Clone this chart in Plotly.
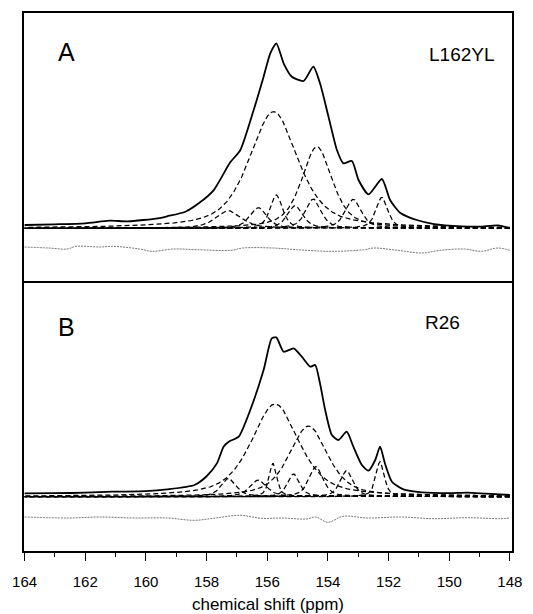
import numpy as np
import plotly.graph_objects as go
from plotly.subplots import make_subplots

# ---------------- data ----------------
# Panel A (L162YL): experimental spectrum, ppm / intensity (a.u.)
spec_A_ppm = [164.0, 163.0, 162.0, 161.2, 160.6, 159.6, 159.3, 158.7, 158.26, 157.77,
              157.22, 156.89, 156.45, 156.12, 155.9, 155.70, 155.46, 155.19, 154.8, 154.48,
              154.26, 153.98, 153.7, 153.49, 153.21, 152.99, 152.66, 152.22, 151.95, 151.62,
              151.07, 150.5, 149.6, 149.0, 148.4, 148.0]
spec_A_int = [3.3, 4, 5, 7.6, 7, 10, 12, 16.6, 25, 38,
              66, 78, 118, 151.6, 175, 185, 165, 151.6, 147.3, 161.6,
              145, 111.6, 78, 65, 67.3, 48.3, 34, 49.3, 28.3, 15.6,
              8.3, 4.3, 2, 1.6, 3, 0]
# Panel A fitted components: centre (ppm), height (a.u.), FWHM (ppm)
comp_A_center = [155.79, 154.36, 157.27, 156.29, 155.70, 155.08, 154.48, 153.16, 152.22]
comp_A_height = [116.6, 81.6, 17.6, 20.5, 33.3, 22.6, 29.3, 29, 31]
comp_A_fwhm = [1.9, 1.2, 1.0, 0.66, 0.48, 0.6, 0.6, 0.62, 0.46]
# Panel A residual
res_A_ppm = [164.0, 163.2, 162.6, 162.3, 161.5, 161.1, 160.2, 159.8, 159.1, 158.3, 157.2, 156.8,
             155.8, 155.0, 153.9, 152.8, 152.5, 151.7, 150.9, 150.3, 149.5, 148.95, 148.4, 148.0]
res_A_int = [1, 0, -1, 1.7, 1, 1.7, -1, -3.3, -1, -1.7, -2.3, 0,
             0, -1.7, -3.3, -1.7, 0, -2.3, -5, -2.3, -1, -3.3, 0, -2.3]

# Panel B (R26)
spec_B_ppm = [164.0, 163.0, 162.0, 161.1, 160.0, 159.3, 158.4, 157.99, 157.66, 157.44,
              157.27, 156.94, 156.56, 156.12, 155.85, 155.70, 155.46, 155.13, 154.86, 154.58,
              154.42, 154.26, 154.09, 153.87, 153.65, 153.38, 153.16, 152.88, 152.66, 152.44,
              152.28, 152.12, 151.89, 151.51, 150.9, 150.0, 149.4, 148.8, 148.0]
spec_B_int = [3.3, 3.5, 4, 5, 5.5, 7.3, 11.7, 20.7, 33.3, 50,
              55, 60, 86.7, 126.7, 158.3, 159.3, 145, 148.3, 140, 130,
              131.7, 113.3, 86.7, 61.7, 56.7, 65, 50, 31.7, 26, 36.7,
              50, 33.3, 15, 7.3, 4.3, 3.5, 4, 3, 1.7]
comp_B_center = [155.74, 154.64, 157.27, 156.29, 155.81, 155.13, 154.39, 153.38, 152.28]
comp_B_height = [92.7, 70.7, 18.3, 16.7, 33.3, 22.7, 30, 26, 35]
comp_B_fwhm = [1.87, 1.5, 0.59, 0.66, 0.3, 0.47, 0.55, 0.5, 0.33]
res_B_ppm = [164.0, 162.6, 161.5, 160.4, 159.3, 158.4, 157.7, 156.9, 156.2, 155.5,
             154.7, 154.4, 154.0, 153.5, 152.7, 151.6, 150.5, 149.4, 148.3, 148.0]
res_B_int = [1, 0, 1, 0, 0, -2.3, 0, 2.7, -0.3, 0,
             -1, 1, -4.3, 1.7, 0, 1, -0.7, 0.3, -0.7, 0]

panel_labels = ["A", "B"]
sample_labels = ["L162YL", "R26"]
x_title = "chemical shift (ppm)"

# ---------------- helpers ----------------
ETA = 0.6  # Lorentzian fraction of the pseudo-Voigt line shape


def line_shape(x, c, h, w):
    s = w / (2 * np.sqrt(2 * np.log(2)))
    g = np.exp(-(x - c) ** 2 / (2 * s ** 2))
    lor = 1.0 / (1.0 + ((x - c) / (w / 2)) ** 2)
    return h * (ETA * lor + (1 - ETA) * g)


xgrid = np.linspace(148.0, 164.0, 801)
FONT = "Liberation Sans, Arial, Helvetica"

fig = make_subplots(rows=2, cols=1, shared_xaxes=False, vertical_spacing=0)

panels = [
    (spec_A_ppm, spec_A_int, comp_A_center, comp_A_height, comp_A_fwhm, res_A_ppm, res_A_int, -19.7),
    (spec_B_ppm, spec_B_int, comp_B_center, comp_B_height, comp_B_fwhm, res_B_ppm, res_B_int, -21.3),
]

for i, (sp, si, cc, ch, cw, rp, ri, roff) in enumerate(panels):
    row = i + 1
    for c, h, w in zip(cc, ch, cw):
        y = line_shape(xgrid, c, h, w)
        fig.add_trace(go.Scatter(x=xgrid, y=y, mode="lines",
                                 line=dict(color="black", width=1.25, dash="5px,3px"),
                                 showlegend=False, hoverinfo="skip"), row=row, col=1)
    fig.add_trace(go.Scatter(x=sp, y=si, mode="lines",
                             line=dict(color="black", width=1.8, shape="spline", smoothing=0.6),
                             showlegend=False), row=row, col=1)
    fig.add_trace(go.Scatter(x=rp, y=np.array(ri) + roff, mode="lines",
                             line=dict(color="#777", width=1, dash="2px,1px", shape="spline"),
                             showlegend=False), row=row, col=1)

axis_line = dict(showline=True, linecolor="black", linewidth=1.6,
                 showgrid=False, zeroline=False)

fig.update_xaxes(range=[164.02, 147.93], **axis_line)
# top panel: only its top frame line (the shared border is drawn by the lower panel)
fig.update_xaxes(showticklabels=False, ticks="", side="top", mirror=False, row=1, col=1)
fig.update_xaxes(row=2, col=1, mirror=True, ticks="outside", ticklen=8, tickwidth=1.3, tickcolor="black",
                 dtick=2, tick0=148,
                 minor=dict(dtick=1, ticks="outside", ticklen=4, tickwidth=1.2, tickcolor="black"),
                 ticklabelstandoff=8,
                 tickfont=dict(family=FONT, size=15, color="black"),
                 title=dict(text=x_title, standoff=9,
                            font=dict(family=FONT, size=17, color="black")))
fig.update_yaxes(showticklabels=False, ticks="", mirror=True, **axis_line)
fig.update_yaxes(range=[-54.7, 215.3], domain=[0.4981, 1.0], row=1, col=1)
fig.update_yaxes(range=[-54.3, 213.7], domain=[0.0, 0.4981], row=2, col=1)

# panel letters and sample names
letter_y = [0.856, 0.836]
name_x = [0.969, 0.898]
name_y = [0.848, 0.851]
for i in range(2):
    xr = "x domain" if i == 0 else "x2 domain"
    yr = "y domain" if i == 0 else "y2 domain"
    fig.add_annotation(x=0.088, y=letter_y[i], xref=xr, yref=yr, xanchor="center", yanchor="middle",
                       text=panel_labels[i], showarrow=False,
                       font=dict(family=FONT, size=25, color="black"))
    fig.add_annotation(x=name_x[i], y=name_y[i], xref=xr, yref=yr, xanchor="right", yanchor="middle",
                       text=sample_labels[i], showarrow=False,
                       font=dict(family=FONT, size=19, color="black"))

# the page adds an 8px body margin, so the margins below are offset by it
fig.update_layout(width=533, height=614, plot_bgcolor="white", paper_bgcolor="white",
                  margin=dict(l=16, r=29, t=5, b=71))

fig.write_html("out.html")
